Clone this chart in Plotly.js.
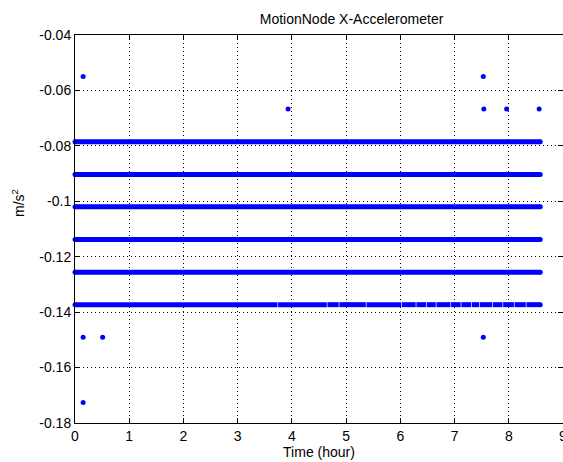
<!DOCTYPE html>
<html>
<head>
<meta charset="utf-8">
<script src="https://cdn.plot.ly/plotly-3.0.1.min.js"></script>
<style>html,body{margin:0;padding:0;background:#fff;}#chart{width:563px;height:462px;}</style>
</head>
<body>
<div id="chart"></div>
<script>
// Quantized accelerometer levels (dense bands of samples)
const bandLevels = [-0.0785, -0.0903, -0.1020, -0.1138, -0.1256, -0.1373];
const bandStartHour = 0;
const bandEndHour = 8.58;
// small visible gaps in the lowest band (hours)
const bottomBandGaps = [3.74, 4.65, 4.87, 5.37, 6.02, 6.29, 6.48, 6.66, 6.93, 7.12, 7.31, 7.46, 7.70, 7.89, 8.10, 8.32];

// Isolated outlier samples
const outlierHours  = [0.15, 7.53, 3.93, 7.54, 7.96, 8.56, 0.15, 0.51, 7.53, 0.15];
const outlierValues = [-0.0550, -0.0550, -0.0667, -0.0667, -0.0667, -0.0667, -0.1491, -0.1491, -0.1491, -0.1726];

const xTickVals = [0, 1, 2, 3, 4, 5, 6, 7, 8, 9];
const xTickLabels = ['0', '1', '2', '3', '4', '5', '6', '7', '8', '9'];
const yTickVals = [-0.04, -0.06, -0.08, -0.1, -0.12, -0.14, -0.16, -0.18];
const yTickLabels = ['-0.04', '-0.06', '-0.08', '-0.1', '-0.12', '-0.14', '-0.16', '-0.18'];

const BLUE = '#0000ff';
const FONT = 'Liberation Sans, Arial, sans-serif';

// build band line segments
const bx = [], by = [];
bandLevels.forEach((lv, i) => {
  if (i === bandLevels.length - 1) {
    let s = bandStartHour;
    bottomBandGaps.forEach(g => {
      bx.push(s, g - 0.006, null); by.push(lv, lv, null);
      s = g + 0.006;
    });
    bx.push(s, bandEndHour, null); by.push(lv, lv, null);
  } else {
    bx.push(bandStartHour, bandEndHour, null); by.push(lv, lv, null);
  }
});
const endX = [], endY = [];
bandLevels.forEach(lv => { endX.push(bandStartHour, bandEndHour); endY.push(lv, lv); });

const traces = [
  {x: bx, y: by, type: 'scatter', mode: 'lines', line: {color: BLUE, width: 5}, connectgaps: false, hoverinfo: 'skip'},
  {x: endX, y: endY, type: 'scatter', mode: 'markers', marker: {color: BLUE, size: 5}, cliponaxis: false, hoverinfo: 'skip'},
  {x: outlierHours, y: outlierValues, type: 'scatter', mode: 'markers', marker: {color: BLUE, size: 5, symbol: 'circle'}, cliponaxis: false}
];

const axisCommon = {
  showline: true, linecolor: '#000', linewidth: 1, mirror: 'ticks',
  ticks: 'inside', ticklen: 5, tickcolor: '#000', tickwidth: 1,
  showgrid: true, gridcolor: '#000', gridwidth: 1, griddash: '1px,3px',
  zeroline: false, ticklabeloverflow: 'allow',
  tickfont: {family: FONT, size: 14, color: '#000'}
};

const layout = {
  width: 563, height: 462,
  margin: {l: 75, r: 0, t: 35, b: 39},
  paper_bgcolor: '#fff', plot_bgcolor: '#fff',
  showlegend: false,
  font: {family: FONT, color: '#000'},
  title: {text: 'MotionNode X-Accelerometer', font: {family: FONT, size: 14, color: '#000'},
          x: 0.5667, xanchor: 'center', y: 1 - 19/462, yanchor: 'middle', xref: 'paper', yref: 'container'},
  xaxis: Object.assign({}, axisCommon, {
    range: [0, 9], tickvals: xTickVals, ticktext: xTickLabels,
    title: {text: 'Time (hour)', font: {family: FONT, size: 14, color: '#000'}, standoff: 2}
  }),
  yaxis: Object.assign({}, axisCommon, {
    range: [-0.18, -0.04], tickvals: yTickVals, ticktext: yTickLabels
  }),
  annotations: [{
    text: 'm/s<sup>2</sup>', textangle: -90, xref: 'paper', yref: 'paper',
    x: (18 - 75) / 488, y: (423 - 203) / 388, xanchor: 'center', yanchor: 'middle',
    showarrow: false, font: {family: FONT, size: 14, color: '#000'}
  }]
};

Plotly.newPlot('chart', traces, layout, {displayModeBar: false, staticPlot: true});
</script>
</body>
</html>
